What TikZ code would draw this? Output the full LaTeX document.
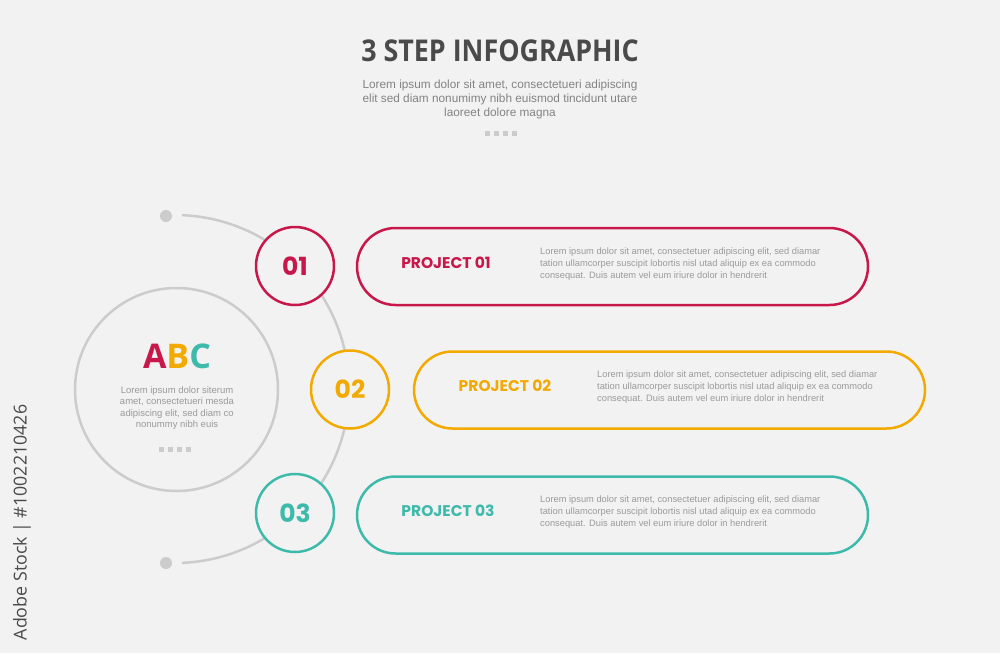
\documentclass[tikz,border=0pt]{standalone}
\usepackage{fontspec}
\setmainfont{Liberation Sans}
\newfontfamily\popf{Poppins}
\newfontfamily\ttlf{Open Sans}
\newfontfamily\ttlnf[FakeStretch=0.895]{Open Sans}
\usetikzlibrary{shapes.misc,calc}
\definecolor{bgc}{HTML}{F2F2F2}
\definecolor{cred}{HTML}{C8174A}
\definecolor{corg}{HTML}{F2A900}
\definecolor{ctea}{HTML}{3EBAAB}
\definecolor{lgray}{HTML}{CCCCCC}
\definecolor{tgray}{HTML}{9A9A9A}
\definecolor{dgray}{HTML}{4A4A4A}
\tikzset{
  pill/.style={rounded rectangle, line width=2.5pt, fill=bgc, minimum width=511pt, minimum height=77pt, inner sep=0pt},
  stepcirc/.style={circle, line width=2.5pt, fill=bgc, minimum size=78pt, inner sep=0pt, font=\popf\bfseries\fontsize{25}{25}\selectfont},
  plabel/.style={font=\popf\bfseries\fontsize{15.5}{16}\selectfont, inner sep=0pt},
  para/.style={font=\fontsize{9.3}{12}\selectfont, text=tgray, align=left, inner sep=0pt, anchor=north west},
  greydot/.style={circle, fill=lgray, minimum size=12pt, inner sep=0pt},
  sq/.style={fill=lgray, minimum size=5pt, inner sep=0pt},
  arcline/.style={draw=lgray, line width=2.5pt},
}
\begin{document}
\begin{tikzpicture}[x=1pt,y=-1pt]
\fill[bgc] (0,0) rectangle (1000,653);
\useasboundingbox (0,0) rectangle (1000,653);
% title
\node[font=\ttlnf\bfseries\fontsize{30}{30}\selectfont, text=dgray, inner sep=0pt] (title) at (500,51) {3 STEP INFOGRAPHIC};
\node[font=\fontsize{11.8}{14}\selectfont, text=tgray!85!black, align=center, inner sep=0pt] (sub) at (500,99.5) {Lorem ipsum dolor sit amet, consectetueri adipiscing\\elit sed diam nonumimy nibh euismod tincidunt utare\\laoreet dolore magna};
\foreach \i/\xx in {1/485,2/494,3/503,4/512} \node[sq] (ts\i) at (\xx+2.5,133) {};
% arc and dots
\node[greydot] (dtop) at (166,216) {};
\node[greydot] (dbot) at (166,563) {};
\coordinate (arcS) at ($(175,389)+(-87.7:174)$);
\draw[arcline] (arcS) arc[start angle=-87.7, end angle=87.7, radius=174];
% big circle
\node[circle, draw=lgray, line width=2.5pt, minimum size=203pt, inner sep=0pt] (big) at (176.5,389.5) {};
\node[font=\ttlf\bfseries\fontsize{34}{34}\selectfont, inner sep=0pt] (abc) at (177,356) {\textcolor{cred}{A}\textcolor{corg}{B}\textcolor{ctea}{C}};
\node[font=\fontsize{9.5}{11.4}\selectfont, text=tgray, align=center, inner sep=0pt] (abct) at (177,408) {Lorem ipsum dolor siterum\\amet, consectetueri mesda\\adipiscing elit, sed diam co\\nonummy nibh euis};
\foreach \i/\xx in {1/159,2/168,3/177,4/186} \node[sq] (cs\i) at (\xx+2.5,449) {};
% steps
\node[stepcirc, draw=cred, text=cred] (s1) at (295,266) {01};
\node[stepcirc, draw=corg, text=corg] (s2) at (350,389.5) {02};
\node[stepcirc, draw=ctea, text=ctea] (s3) at (295,513) {03};
\node[pill, draw=cred] (p1) at (612.5,266.5) {};
\node[pill, draw=corg] (p2) at (669.5,390) {};
\node[pill, draw=ctea] (p3) at (612.5,515) {};
\node[plabel, text=cred] (l1) at (446,263) {PROJECT 01};
\node[plabel, text=corg] (l2) at (505,386) {PROJECT 02};
\node[plabel, text=ctea] (l3) at (448,511) {PROJECT 03};
\node[para] (t1) at (540,248) {Lorem ipsum dolor sit amet, consectetuer adipiscing elit, sed diamar\\tation ullamcorper suscipit lobortis nisl utad aliquip ex ea commodo\\consequat. Duis autem vel eum iriure dolor in hendrerit};
\node[para] (t2) at (597,371) {Lorem ipsum dolor sit amet, consectetuer adipiscing elit, sed diamar\\tation ullamcorper suscipit lobortis nisl utad aliquip ex ea commodo\\consequat. Duis autem vel eum iriure dolor in hendrerit};
\node[para] (t3) at (540,496) {Lorem ipsum dolor sit amet, consectetuer adipiscing elit, sed diamar\\tation ullamcorper suscipit lobortis nisl utad aliquip ex ea commodo\\consequat. Duis autem vel eum iriure dolor in hendrerit};
% vertical credit
\node[rotate=90, font=\ttlf\fontsize{17.8}{18}\selectfont, text=dgray, inner sep=0pt] (credit) at (22,522.5) {Adobe Stock | \#1002210426};
\end{tikzpicture}
\end{document}
